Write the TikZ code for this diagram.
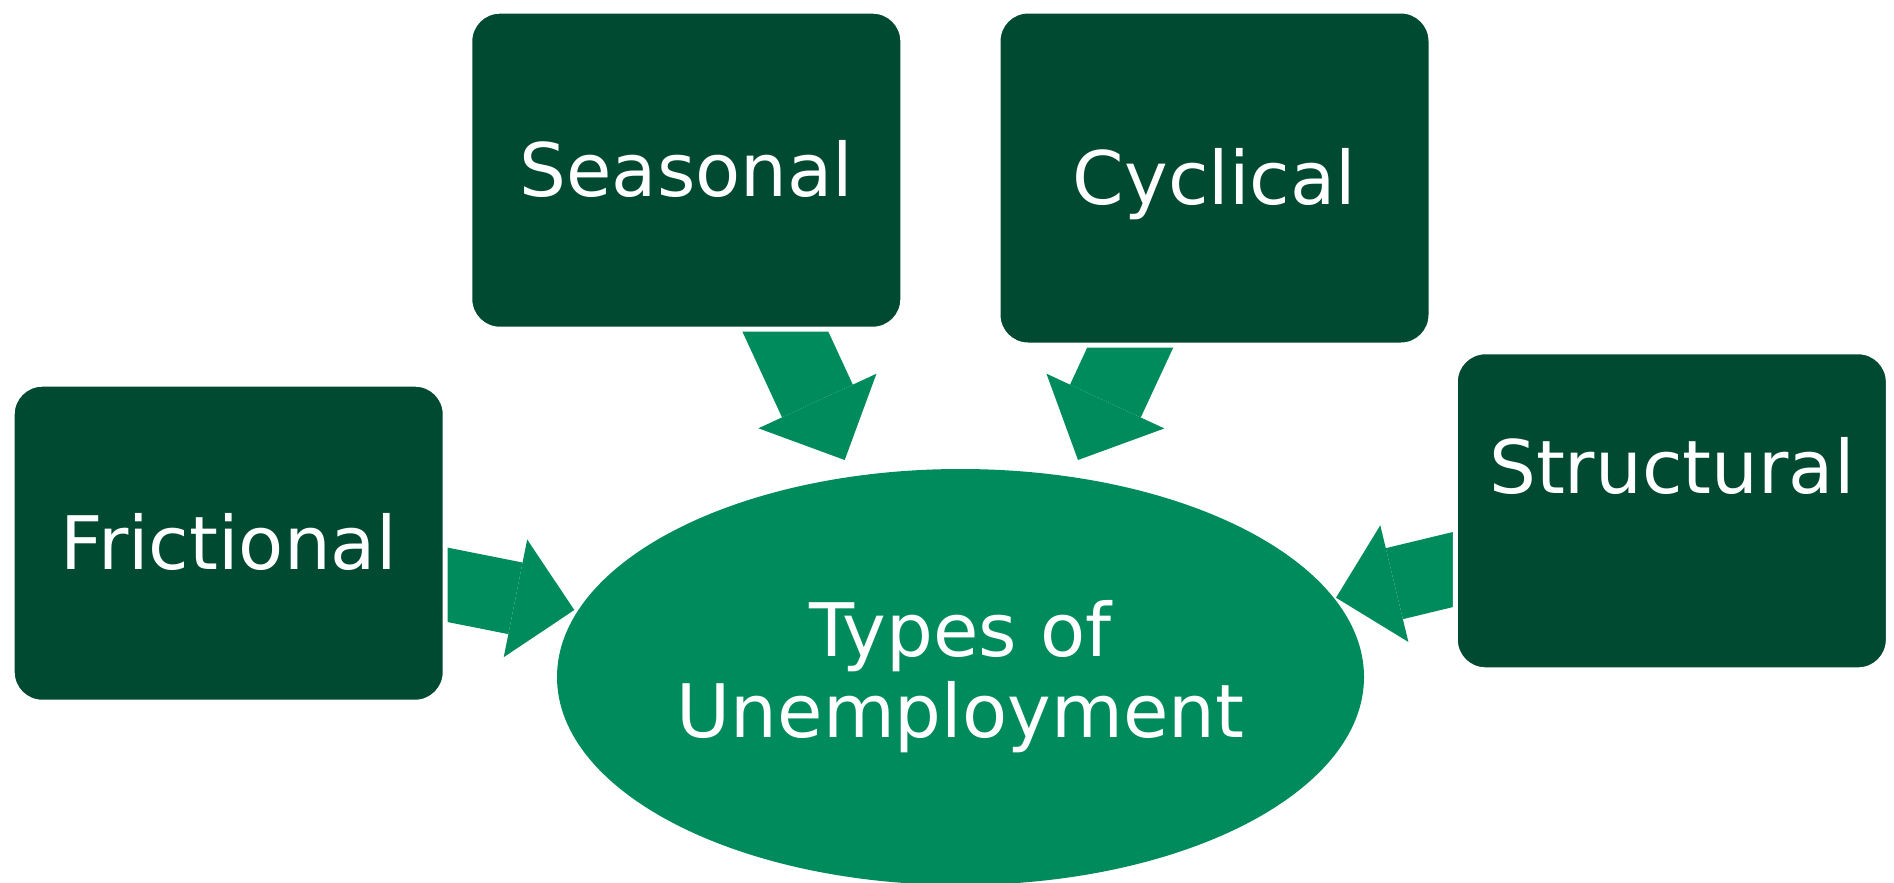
\documentclass[tikz,border=0pt]{standalone}
\usepackage{fontspec}
\setmainfont{DejaVu Sans}
\usetikzlibrary{arrows.meta, shapes.geometric, backgrounds}
\definecolor{boxgreen}{HTML}{004A31}
\definecolor{leafgreen}{HTML}{008B5D}

\begin{document}
\begin{tikzpicture}[box/.style={fill=boxgreen, draw=white, line width=0.05cm, rounded corners=0.3cm, minimum width=4.33cm, minimum height=3.18cm, inner sep=0pt, outer sep=0pt, text=white, font=\fontsize{21}{23.1}\selectfont, text height=0.52cm, text depth=0pt}, hub/.style={ellipse, fill=leafgreen, minimum width=8.07cm, minimum height=4.16cm, inner sep=0pt, outer sep=0pt, text=white, font=\fontsize{21}{23.1}\selectfont, align=center}, feed/.style={leafgreen, line width=0.73cm, -{Triangle[width=1.2cm, length=0.6cm, line width=0pt]}, shorten <=-0.3cm}, feedwide/.style={feed, line width=0.78cm, -{Triangle[width=1.3cm, length=0.65cm, line width=0pt]}}]

\useasboundingbox (0,0) rectangle (18.94,8.82);

% the four kinds around the centre
\node[box] (fric) at (2.287,3.388) {Frictional};
\node[box] (seas) at (6.863,7.118) {Seasonal};
\node[box, minimum height=3.34cm] (cycl) at (12.145,7.04) {Cyclical};
\node[box, text depth=0.87cm] (struc) at (16.718,3.712) {Structural};
\node[hub] (ell) at (9.605,2.05) {Types of\\Unemployment};

% block arrows sit behind the boxes
\begin{pgfonlayer}{background}
\draw[feed] ([shift={(0.033,-0.418)}]fric.east) -- ([shift={(-3.862,0.67)}]ell.center);
\draw[feedwide] ([shift={(0.995,-0.034)}]seas.south) -- ([shift={(-1.158,2.17)}]ell.center);
\draw[feedwide] ([shift={(-0.848,-0.037)}]cycl.south) -- ([shift={(1.175,2.17)}]ell.center);
\draw[feed] ([shift={(-0.023,-0.587)}]struc.west) -- ([shift={(3.755,0.793)}]ell.center);
\end{pgfonlayer}
\end{tikzpicture}
\end{document}
